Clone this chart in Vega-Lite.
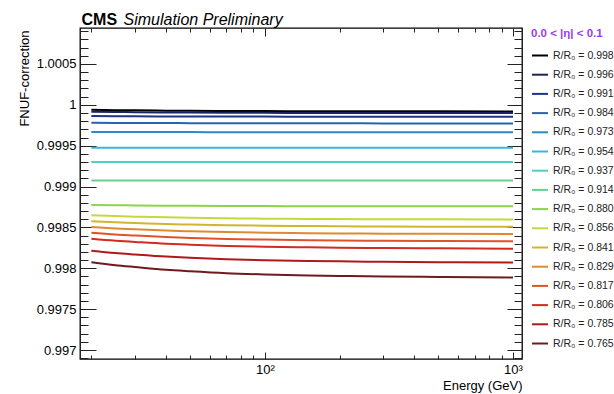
{
"$schema": "https://vega.github.io/schema/vega-lite/v6.json",
"width": 442, "height": 331,
"autosize": {"type": "none"},
"padding": {"left": 80, "top": 28, "right": 92, "bottom": 35},
"background": "white",
"config": {
  "font": "Liberation Sans",
  "view": {"stroke": "#000000", "strokeWidth": 1.3},
  "axis": {"grid": false, "domain": false, "tickColor": "#222222", "tickWidth": 1, "labelColor": "#000000", "titleColor": "#000000", "labelFont": "Liberation Sans", "titleFont": "Liberation Sans"}
},
"data": {"values": [
{"s":"0.998","E":20,"v":0.999939},{"s":"0.998","E":25,"v":0.999935},{"s":"0.998","E":30,"v":0.999933},{"s":"0.998","E":40,"v":0.999929},{"s":"0.998","E":50,"v":0.999927},{"s":"0.998","E":70,"v":0.999925},{"s":"0.998","E":100,"v":0.999923},{"s":"0.998","E":150,"v":0.999922},{"s":"0.998","E":200,"v":0.999921},{"s":"0.998","E":300,"v":0.99992},{"s":"0.998","E":500,"v":0.99992},{"s":"0.998","E":1000,"v":0.999919},
{"s":"0.996","E":20,"v":0.999915},{"s":"0.996","E":25,"v":0.999912},{"s":"0.996","E":30,"v":0.99991},{"s":"0.996","E":40,"v":0.999907},{"s":"0.996","E":50,"v":0.999905},{"s":"0.996","E":70,"v":0.999903},{"s":"0.996","E":100,"v":0.999902},{"s":"0.996","E":150,"v":0.999901},{"s":"0.996","E":200,"v":0.999901},{"s":"0.996","E":300,"v":0.9999},{"s":"0.996","E":500,"v":0.999899},{"s":"0.996","E":1000,"v":0.999899},
{"s":"0.991","E":20,"v":0.999863},{"s":"0.991","E":25,"v":0.999861},{"s":"0.991","E":30,"v":0.99986},{"s":"0.991","E":40,"v":0.999858},{"s":"0.991","E":50,"v":0.999858},{"s":"0.991","E":70,"v":0.999857},{"s":"0.991","E":100,"v":0.999856},{"s":"0.991","E":150,"v":0.999855},{"s":"0.991","E":200,"v":0.999855},{"s":"0.991","E":300,"v":0.999855},{"s":"0.991","E":500,"v":0.999854},{"s":"0.991","E":1000,"v":0.999854},
{"s":"0.984","E":20,"v":0.999781},{"s":"0.984","E":25,"v":0.999779},{"s":"0.984","E":30,"v":0.999778},{"s":"0.984","E":40,"v":0.999777},{"s":"0.984","E":50,"v":0.999776},{"s":"0.984","E":70,"v":0.999775},{"s":"0.984","E":100,"v":0.999775},{"s":"0.984","E":150,"v":0.999774},{"s":"0.984","E":200,"v":0.999774},{"s":"0.984","E":300,"v":0.999773},{"s":"0.984","E":500,"v":0.999773},{"s":"0.984","E":1000,"v":0.999773},
{"s":"0.973","E":20,"v":0.999668},{"s":"0.973","E":25,"v":0.999667},{"s":"0.973","E":30,"v":0.999667},{"s":"0.973","E":40,"v":0.999666},{"s":"0.973","E":50,"v":0.999666},{"s":"0.973","E":70,"v":0.999665},{"s":"0.973","E":100,"v":0.999665},{"s":"0.973","E":150,"v":0.999665},{"s":"0.973","E":200,"v":0.999664},{"s":"0.973","E":300,"v":0.999664},{"s":"0.973","E":500,"v":0.999664},{"s":"0.973","E":1000,"v":0.999664},
{"s":"0.954","E":20,"v":0.999475},{"s":"0.954","E":25,"v":0.999475},{"s":"0.954","E":30,"v":0.999475},{"s":"0.954","E":40,"v":0.999474},{"s":"0.954","E":50,"v":0.999474},{"s":"0.954","E":70,"v":0.999474},{"s":"0.954","E":100,"v":0.999474},{"s":"0.954","E":150,"v":0.999474},{"s":"0.954","E":200,"v":0.999474},{"s":"0.954","E":300,"v":0.999474},{"s":"0.954","E":500,"v":0.999474},{"s":"0.954","E":1000,"v":0.999474},
{"s":"0.937","E":20,"v":0.999299},{"s":"0.937","E":25,"v":0.999299},{"s":"0.937","E":30,"v":0.999299},{"s":"0.937","E":40,"v":0.999299},{"s":"0.937","E":50,"v":0.999299},{"s":"0.937","E":70,"v":0.999299},{"s":"0.937","E":100,"v":0.999299},{"s":"0.937","E":150,"v":0.999299},{"s":"0.937","E":200,"v":0.999299},{"s":"0.937","E":300,"v":0.999299},{"s":"0.937","E":500,"v":0.999299},{"s":"0.937","E":1000,"v":0.999299},
{"s":"0.914","E":20,"v":0.999074},{"s":"0.914","E":25,"v":0.999074},{"s":"0.914","E":30,"v":0.999074},{"s":"0.914","E":40,"v":0.999073},{"s":"0.914","E":50,"v":0.999073},{"s":"0.914","E":70,"v":0.999073},{"s":"0.914","E":100,"v":0.999073},{"s":"0.914","E":150,"v":0.999073},{"s":"0.914","E":200,"v":0.999073},{"s":"0.914","E":300,"v":0.999073},{"s":"0.914","E":500,"v":0.999073},{"s":"0.914","E":1000,"v":0.999073},
{"s":"0.880","E":20,"v":0.998774},{"s":"0.880","E":25,"v":0.998771},{"s":"0.880","E":30,"v":0.998769},{"s":"0.880","E":40,"v":0.998766},{"s":"0.880","E":50,"v":0.998764},{"s":"0.880","E":70,"v":0.998762},{"s":"0.880","E":100,"v":0.998761},{"s":"0.880","E":150,"v":0.99876},{"s":"0.880","E":200,"v":0.99876},{"s":"0.880","E":300,"v":0.998759},{"s":"0.880","E":500,"v":0.998758},{"s":"0.880","E":1000,"v":0.998758},
{"s":"0.856","E":20,"v":0.998649},{"s":"0.856","E":25,"v":0.998639},{"s":"0.856","E":30,"v":0.998632},{"s":"0.856","E":40,"v":0.998623},{"s":"0.856","E":50,"v":0.998618},{"s":"0.856","E":70,"v":0.998612},{"s":"0.856","E":100,"v":0.998607},{"s":"0.856","E":150,"v":0.998604},{"s":"0.856","E":200,"v":0.998602},{"s":"0.856","E":300,"v":0.9986},{"s":"0.856","E":500,"v":0.998599},{"s":"0.856","E":1000,"v":0.998597},
{"s":"0.841","E":20,"v":0.998576},{"s":"0.841","E":25,"v":0.998562},{"s":"0.841","E":30,"v":0.998554},{"s":"0.841","E":40,"v":0.998541},{"s":"0.841","E":50,"v":0.998535},{"s":"0.841","E":70,"v":0.998526},{"s":"0.841","E":100,"v":0.998521},{"s":"0.841","E":150,"v":0.998516},{"s":"0.841","E":200,"v":0.998514},{"s":"0.841","E":300,"v":0.998511},{"s":"0.841","E":500,"v":0.998509},{"s":"0.841","E":1000,"v":0.998507},
{"s":"0.829","E":20,"v":0.998504},{"s":"0.829","E":25,"v":0.998487},{"s":"0.829","E":30,"v":0.998477},{"s":"0.829","E":40,"v":0.998461},{"s":"0.829","E":50,"v":0.998453},{"s":"0.829","E":70,"v":0.998443},{"s":"0.829","E":100,"v":0.998436},{"s":"0.829","E":150,"v":0.99843},{"s":"0.829","E":200,"v":0.998427},{"s":"0.829","E":300,"v":0.998424},{"s":"0.829","E":500,"v":0.998422},{"s":"0.829","E":1000,"v":0.998419},
{"s":"0.817","E":20,"v":0.998434},{"s":"0.817","E":25,"v":0.998413},{"s":"0.817","E":30,"v":0.998401},{"s":"0.817","E":40,"v":0.998382},{"s":"0.817","E":50,"v":0.998372},{"s":"0.817","E":70,"v":0.998359},{"s":"0.817","E":100,"v":0.998351},{"s":"0.817","E":150,"v":0.998344},{"s":"0.817","E":200,"v":0.99834},{"s":"0.817","E":300,"v":0.998336},{"s":"0.817","E":500,"v":0.998333},{"s":"0.817","E":1000,"v":0.99833},
{"s":"0.806","E":20,"v":0.998362},{"s":"0.806","E":25,"v":0.998338},{"s":"0.806","E":30,"v":0.998323},{"s":"0.806","E":40,"v":0.998301},{"s":"0.806","E":50,"v":0.998289},{"s":"0.806","E":70,"v":0.998274},{"s":"0.806","E":100,"v":0.998264},{"s":"0.806","E":150,"v":0.998256},{"s":"0.806","E":200,"v":0.998252},{"s":"0.806","E":300,"v":0.998247},{"s":"0.806","E":500,"v":0.998244},{"s":"0.806","E":1000,"v":0.99824},
{"s":"0.785","E":20,"v":0.998216},{"s":"0.785","E":25,"v":0.998187},{"s":"0.785","E":30,"v":0.998169},{"s":"0.785","E":40,"v":0.998143},{"s":"0.785","E":50,"v":0.998128},{"s":"0.785","E":70,"v":0.998111},{"s":"0.785","E":100,"v":0.998099},{"s":"0.785","E":150,"v":0.998089},{"s":"0.785","E":200,"v":0.998085},{"s":"0.785","E":300,"v":0.998079},{"s":"0.785","E":500,"v":0.998074},{"s":"0.785","E":1000,"v":0.99807},
{"s":"0.765","E":20,"v":0.998075},{"s":"0.765","E":25,"v":0.998038},{"s":"0.765","E":30,"v":0.998015},{"s":"0.765","E":40,"v":0.997981},{"s":"0.765","E":50,"v":0.997963},{"s":"0.765","E":70,"v":0.99794},{"s":"0.765","E":100,"v":0.997925},{"s":"0.765","E":150,"v":0.997912},{"s":"0.765","E":200,"v":0.997907},{"s":"0.765","E":300,"v":0.997899},{"s":"0.765","E":500,"v":0.997894},{"s":"0.765","E":1000,"v":0.997888}
]},
"resolve": {"axis": {"x": "independent", "y": "independent"}},
"layer": [
  {
    "mark": {"type": "line", "strokeWidth": 2, "interpolate": "monotone"},
    "encoding": {
      "x": {"field": "E", "type": "quantitative",
        "scale": {"type": "log", "domain": [18, 1087]},
        "axis": {"orient": "bottom", "values": [100, 1000], "tickSize": -7,
          "labelExpr": "datum.value == 100 ? '10²' : '10³'", "labelFontSize": 13, "labelPadding": 11,
          "title": "Energy (GeV)", "titleFontSize": 13, "titleFontWeight": "normal",
          "titleX": 442, "titleY": 26, "titleAlign": "right", "titleBaseline": "middle", "titleAnchor": null}},
      "y": {"field": "v", "type": "quantitative",
        "scale": {"domain": [0.99689, 1.00094], "zero": false},
        "axis": {"orient": "left", "values": [0.997, 0.9975, 0.998, 0.9985, 0.999, 0.9995, 1, 1.0005],
          "tickSize": -16, "format": "~g", "labelFontSize": 13, "labelPadding": 20,
          "title": "FNUF-correction", "titleFontSize": 13, "titleFontWeight": "normal",
          "titleX": -56, "titleY": 2, "titleAngle": -90, "titleAlign": "right", "titleBaseline": "middle"}},
      "color": {"field": "s", "type": "nominal",
        "scale": {"domain": ["0.998","0.996","0.991","0.984","0.973","0.954","0.937","0.914","0.880","0.856","0.841","0.829","0.817","0.806","0.785","0.765"],
          "range": ["#000000","#1a2260","#1d3585","#2a63ad","#2d89c3","#3ab6dc","#4fd0c2","#6ad092","#8fd24c","#c6d83e","#d2b52e","#df8a33","#e0532a","#d12b23","#b0181b","#701a1f"]},
        "legend": {"orient": "right", "offset": 8, "padding": 0,
          "title": "0.0 < |η| < 0.1", "titleColor": "#9a3cf0", "titleFontSize": 11.5, "titleFontWeight": "bold", "titlePadding": 7, "titleFont": "Liberation Sans",
          "symbolType": "stroke", "symbolSize": 256, "symbolStrokeWidth": 2,
          "labelFontSize": 10.5, "labelOffset": 4, "labelColor": "#222222", "labelFont": "Liberation Sans",
          "rowPadding": 4.2, "labelExpr": "'R/R₀ = ' + datum.label"}}
    }
  },
  {
    "mark": {"type": "point", "opacity": 0},
    "encoding": {
      "x": {"field": "E", "type": "quantitative", "scale": {"type": "log", "domain": [18, 1087]},
        "axis": {"orient": "bottom", "values": [20,30,40,50,60,70,80,90,200,300,400,500,600,700,800,900], "tickSize": -4, "labels": false, "title": null}},
      "y": {"field": "v", "type": "quantitative", "scale": {"domain": [0.99689, 1.00094], "zero": false},
        "axis": {"orient": "left", "values": [0.9969,0.9971,0.9972,0.9973,0.9974,0.9976,0.9977,0.9978,0.9979,0.9981,0.9982,0.9983,0.9984,0.9986,0.9987,0.9988,0.9989,0.9991,0.9992,0.9993,0.9994,0.9996,0.9997,0.9998,0.9999,1.0001,1.0002,1.0003,1.0004,1.0006,1.0007,1.0008,1.0009], "tickSize": -8, "labels": false, "title": null}}
    }
  },
  {
    "mark": {"type": "point", "opacity": 0},
    "encoding": {
      "x": {"field": "E", "type": "quantitative", "scale": {"type": "log", "domain": [18, 1087]},
        "axis": {"orient": "top", "values": [100, 1000], "tickSize": -8, "labels": false,
          "title": "CMS", "titleFontSize": 16, "titleFontWeight": "bold", "titleX": 1, "titleY": -4, "titleAlign": "left", "titleBaseline": "alphabetic", "titleAngle": 0}},
      "y": {"field": "v", "type": "quantitative", "scale": {"domain": [0.99689, 1.00094], "zero": false},
        "axis": {"orient": "right", "values": [0.997, 0.9975, 0.998, 0.9985, 0.999, 0.9995, 1, 1.0005], "tickSize": -15, "labels": false, "title": null}}
    }
  },
  {
    "mark": {"type": "point", "opacity": 0},
    "encoding": {
      "x": {"field": "E", "type": "quantitative", "scale": {"type": "log", "domain": [18, 1087]},
        "axis": {"orient": "top", "values": [20,30,40,50,60,70,80,90,200,300,400,500,600,700,800,900], "tickSize": -4, "labels": false,
          "title": "Simulation Preliminary", "titleFontSize": 16, "titleFontWeight": "normal", "titleFontStyle": "italic", "titleX": 43, "titleY": -4, "titleAlign": "left", "titleBaseline": "alphabetic", "titleAngle": 0}},
      "y": {"field": "v", "type": "quantitative", "scale": {"domain": [0.99689, 1.00094], "zero": false},
        "axis": {"orient": "right", "values": [0.9969,0.9971,0.9972,0.9973,0.9974,0.9976,0.9977,0.9978,0.9979,0.9981,0.9982,0.9983,0.9984,0.9986,0.9987,0.9988,0.9989,0.9991,0.9992,0.9993,0.9994,0.9996,0.9997,0.9998,0.9999,1.0001,1.0002,1.0003,1.0004,1.0006,1.0007,1.0008,1.0009], "tickSize": -8, "labels": false, "title": null}}
    }
  }
]
}
